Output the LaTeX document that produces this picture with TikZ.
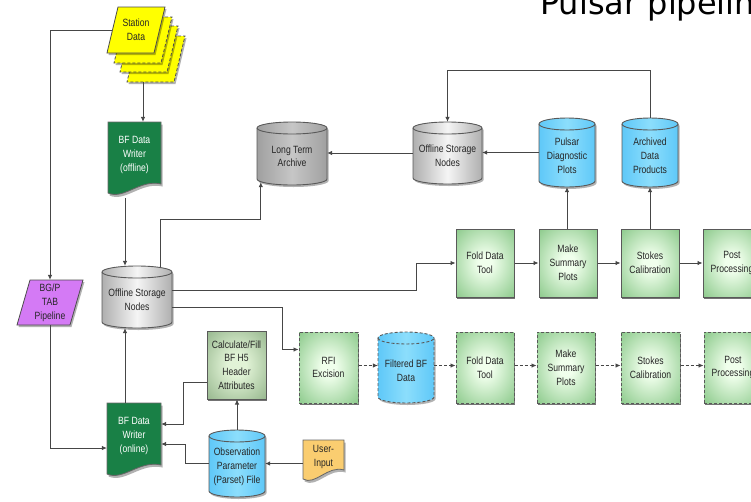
\documentclass[tikz,border=0pt]{standalone}
\usepackage{fontspec}
\setmainfont{Liberation Sans}
\newfontfamily\nodefont[FakeStretch=0.82]{Liberation Sans}
\newfontfamily\titlefont{DejaVu Sans}
\usetikzlibrary{arrows.meta,shadows}

\definecolor{boxout}{RGB}{118,190,118}
\definecolor{boxin}{RGB}{240,255,236}
\definecolor{calcout}{RGB}{128,165,120}
\definecolor{calcin}{RGB}{225,243,214}
\definecolor{dkgreen}{RGB}{25,128,70}
\definecolor{cylblue}{RGB}{95,200,248}
\definecolor{cylblueL}{RGB}{140,222,252}
\definecolor{ltaE}{RGB}{160,160,160}
\definecolor{ltaM}{RGB}{198,198,198}
\definecolor{osnE}{RGB}{175,175,175}
\definecolor{osnM}{RGB}{245,245,245}
\definecolor{sdyellow}{RGB}{255,255,0}
\definecolor{bgpurple}{RGB}{212,122,245}
\definecolor{uiorange}{RGB}{250,205,112}
\definecolor{linegray}{RGB}{70,70,70}

\pgfdeclareradialshading{boxglow}{\pgfpointorigin}{color(0bp)=(boxin); color(6bp)=(boxin); color(42bp)=(boxout); color(50bp)=(boxout)}
\pgfdeclareradialshading{calcglow}{\pgfpointorigin}{color(0bp)=(calcin); color(8bp)=(calcin); color(44bp)=(calcout); color(50bp)=(calcout)}

\tikzset{
  every node/.style={font=\nodefont\fontsize{10.5}{13.8}\selectfont, align=center, text=black!85},
  arr/.style={-{Latex[length=5pt,width=4.5pt]}, draw=linegray, line width=0.8pt},
  darr/.style={arr, dash pattern=on 3pt off 2pt},
  cylline/.style={draw=black!65, line width=0.9pt},
  proc/.style={draw=black!65, line width=1pt, inner sep=0pt,
    shading=boxglow,
    drop shadow={shadow xshift=0.6pt, shadow yshift=-2pt, opacity=0.55, fill=black}},
  dproc/.style={proc, dash pattern=on 3pt off 2pt},
  calcbox/.style={proc, shading=calcglow}
}

% cylinder: name, cx, cy, w, h, shade opts, line opts, text
\newcommand\cylnode[8]{%
  \pgfmathsetmacro\cylxa{#2-#4/2}\pgfmathsetmacro\cylxb{#2+#4/2}%
  \pgfmathsetmacro\cylya{#3-#5/2+6}\pgfmathsetmacro\cylyb{#3+#5/2-6}%
  \pgfmathsetmacro\cylrx{#4/2}%
  \fill[black,opacity=0.3] (\cylxa+1.5,\cylya+2) -- (\cylxa+1.5,\cylyb+2) arc[start angle=180,end angle=360,x radius=\cylrx pt,y radius=6pt] -- (\cylxb+1.5,\cylya+2) arc[start angle=0,end angle=180,x radius=\cylrx pt,y radius=6pt] -- cycle;
  \shade[#6] (\cylxa,\cylya) -- (\cylxa,\cylyb) arc[start angle=180,end angle=360,x radius=\cylrx pt,y radius=6pt] -- (\cylxb,\cylya) arc[start angle=0,end angle=180,x radius=\cylrx pt,y radius=6pt] -- cycle;
  \draw[cylline,#7] (\cylxa,\cylya) -- (\cylxa,\cylyb) arc[start angle=180,end angle=360,x radius=\cylrx pt,y radius=6pt] -- (\cylxb,\cylya) arc[start angle=0,end angle=180,x radius=\cylrx pt,y radius=6pt] -- cycle;
  \draw[cylline,#7] (\cylxa,\cylya) arc[start angle=180,end angle=360,x radius=\cylrx pt,y radius=6pt];
  \node[inner sep=0pt,minimum width=#4pt,minimum height=#5pt] (#1) at (#2,#3) {};
  \node (#1t) at (#2,#3+3) {#8};
}

% document: name, cx, cy, w, h, fill, text colour, text
\newcommand\docnode[8]{%
  \pgfmathsetmacro\dxa{#2-#4/2}\pgfmathsetmacro\dxb{#2+#4/2}%
  \pgfmathsetmacro\dya{#3-#5/2}\pgfmathsetmacro\dyb{#3+#5/2}%
  \pgfmathsetmacro\dxc{#2+0.1*#4}\pgfmathsetmacro\dxd{#2-0.2*#4}%
  \fill[black,opacity=0.3] (\dxa+1.5,\dya+2.5) -- (\dxb+1.5,\dya+2.5) -- (\dxb+1.5,\dyb-9.5) .. controls (\dxc+1.5,\dyb-14.5) and (\dxd+1.5,\dyb+6.5) .. (\dxa+1.5,\dyb-0.5) -- cycle;
  \filldraw[fill=#6, draw=black!60, line width=0.8pt] (\dxa,\dya) -- (\dxb,\dya) -- (\dxb,\dyb-12) .. controls (\dxc,\dyb-17) and (\dxd,\dyb+4) .. (\dxa,\dyb-3) -- cycle;
  \node[inner sep=0pt,minimum width=#4pt,minimum height=#5pt] (#1) at (#2,#3) {};
  \node[text=#7] (#1t) at (#2,#3-4) {#8};
}

% parallelogram: name, cx, cy, w, h, slant, opts, text
\newcommand\paranode[8]{%
  \pgfmathsetmacro\pxa{#2-#4/2}\pgfmathsetmacro\pxb{#2+#4/2}%
  \pgfmathsetmacro\pya{#3-#5/2}\pgfmathsetmacro\pyb{#3+#5/2}%
  \fill[black,opacity=0.3] (\pxa+#6+1.5,\pya+2) -- (\pxb+1.5,\pya+2) -- (\pxb-#6+1.5,\pyb+2) -- (\pxa+1.5,\pyb+2) -- cycle;
  \filldraw[#7] (\pxa+#6,\pya) -- (\pxb,\pya) -- (\pxb-#6,\pyb) -- (\pxa,\pyb) -- cycle;
  \node[inner sep=0pt,minimum width=#4pt,minimum height=#5pt] (#1) at (#2,#3) {#8};
}

\begin{document}
\begin{tikzpicture}[x=1pt,y=-1pt]
\useasboundingbox (0,0) rectangle (751,501);

% title
\node[anchor=base west, inner sep=0pt, font=\titlefont\fontsize{32}{34}\selectfont, text=black] (title) at (540,14.5) {Pulsar pipeline};

% station data stack
\paranode{sd3}{156}{59}{58}{46}{11}{fill=sdyellow,draw=black!70,line width=0.8pt,dash pattern=on 3pt off 2pt}{}
\paranode{sd2}{149}{49}{58}{46}{11}{fill=sdyellow,draw=black!70,line width=0.8pt,dash pattern=on 3pt off 2pt}{}
\paranode{sd1}{143}{40}{58}{46}{11}{fill=sdyellow,draw=black!70,line width=0.8pt,dash pattern=on 3pt off 2pt}{}
\paranode{sd}{136}{30}{58}{46}{11}{fill=sdyellow,draw=black!70,line width=0.8pt}{Station\\Data}

% BG/P TAB pipeline
\paranode{bgp}{50}{302.5}{66}{45}{13}{fill=bgpurple,draw=black!70,line width=0.8pt}{BG/P\\TAB\\Pipeline}

% documents
\docnode{bfoff}{134.5}{159}{53}{74}{dkgreen}{white}{BF Data\\Writer\\(offline)}
\docnode{bfon}{134}{440}{54}{74}{dkgreen}{white}{BF Data\\Writer\\(online)}
\docnode{ui}{323.5}{461}{41}{42}{uiorange}{black!85}{User-\\Input}

% cylinders
\cylnode{lta}{292}{153.5}{70}{63}{left color=ltaE,right color=ltaE,middle color=ltaM}{}{Long Term\\Archive}
\cylnode{osn2}{447.5}{153}{69}{62}{left color=osnE,right color=osnE,middle color=osnM}{}{Offline Storage\\Nodes}
\cylnode{pdp}{567}{152.5}{56}{69}{left color=cylblue,right color=cylblue,middle color=cylblueL}{}{Pulsar\\Diagnostic\\Plots}
\cylnode{adp}{650}{152.5}{56}{69}{left color=cylblue,right color=cylblue,middle color=cylblueL}{}{Archived\\Data\\Products}
\cylnode{osn}{137}{297}{70}{62}{left color=osnE,right color=osnE,middle color=osnM}{}{Offline Storage\\Nodes}
\cylnode{fbf}{406}{367.5}{56}{71}{left color=cylblue,right color=cylblue,middle color=cylblueL}{dash pattern=on 3pt off 2pt}{Filtered BF\\Data}
\cylnode{obs}{237}{463.5}{56}{67}{left color=cylblue,right color=cylblue,middle color=cylblueL}{}{Observation\\Parameter\\(Parset) File}

% process boxes, top row
\node[proc, minimum width=58pt, minimum height=68pt] (fdt1) at (485,263) {Fold Data\\Tool};
\node[proc, minimum width=58pt, minimum height=68pt] (msp1) at (568,263) {Make\\Summary\\Plots};
\node[proc, minimum width=58pt, minimum height=68pt] (sc1) at (650,263) {Stokes\\Calibration};
\node[proc, minimum width=58pt, minimum height=68pt] (pp1) at (732,263) {Post\\Processing};

% process boxes, bottom row (dashed)
\node[dproc, minimum width=59pt, minimum height=71pt] (rfi) at (328.5,367.5) {RFI\\Excision};
\node[dproc, minimum width=58pt, minimum height=71pt] (fdt2) at (485,367.5) {Fold Data\\Tool};
\node[dproc, minimum width=58pt, minimum height=71pt] (msp2) at (566,367.5) {Make\\Summary\\Plots};
\node[dproc, minimum width=59pt, minimum height=71pt] (sc2) at (650.5,367.5) {Stokes\\Calibration};
\node[dproc, minimum width=58pt, minimum height=71pt] (pp2) at (733,367.5) {Post\\Processing};

% calculate/fill
\node[calcbox, minimum width=59pt, minimum height=68pt] (calc) at (236.5,365) {Calculate/Fill\\BF H5\\Header\\Attributes};

% connectors
\draw[arr] ([xshift=-13pt]sd3.south) -- ([xshift=-13pt]sd3.south |- bfoff.north);
\draw[arr] ([xshift=5.5pt]sd.west) -| (bgp.north);
\draw[arr] ([xshift=-9.5pt,yshift=-2pt]bfoff.south) -- ([xshift=-9.5pt]bfoff.south |- osn.north);
\draw[arr] ([xshift=-9pt]bfon.north) -- ([xshift=-9pt]bfon.north |- osn.south);
\draw[arr] ([xshift=23pt,yshift=-1pt]osn.north) -- ++(0,-47) -| ([xshift=4pt,yshift=3pt]lta.south west);
\draw[arr] (osn2.west) -- (osn2.west -| lta.east);
\draw[arr] (pdp.west) -- (pdp.west -| osn2.east);
\draw[arr] (adp.north) -- ++(0,-47) -| (osn2.north);
\draw[arr] (fdt1.east) -- (msp1.west);
\draw[arr] (msp1.east) -- (sc1.west);
\draw[arr] (sc1.east) -- (pp1.west);
\draw[arr] ([xshift=-1pt]msp1.north) -- ([xshift=-1pt]msp1.north |- pdp.south);
\draw[arr] (sc1.north) -- (sc1.north |- adp.south);
\draw[arr] ([yshift=7pt]osn.east) -| ([xshift=-39pt]fdt1.west) -- (fdt1.west);
\draw[arr] ([yshift=-10pt]osn.east) -| ([xshift=-16pt,yshift=18pt]rfi.west) -- ([yshift=18pt]rfi.west);
\draw[darr] ([yshift=2pt]rfi.east) -- ([yshift=2pt]fbf.west);
\draw[darr] ([yshift=2pt]fbf.east) -- ([yshift=2pt]fdt2.west);
\draw[darr] ([yshift=2pt]fdt2.east) -- ([yshift=2pt]msp2.west);
\draw[darr] ([yshift=2pt]msp2.east) -- ([yshift=2pt]sc2.west);
\draw[darr] ([yshift=2pt]sc2.east) -- ([yshift=2pt]pp2.west);
\draw[arr] (obs.north) -- (obs.north |- calc.south);
\draw[arr] ([yshift=-17pt]calc.west) -| ([xshift=22pt,yshift=16pt]bfon.east) -- ([yshift=16pt]bfon.east);
\draw[arr] (obs.west) -| ([xshift=24pt,yshift=-4pt]bfon.east) -- ([yshift=-4pt]bfon.east);
\draw[arr] (ui.west |- obs.east) -- (obs.east);
\draw[arr] (bgp.south) |- ([yshift=-8pt]bfon.west);
\end{tikzpicture}
\end{document}
